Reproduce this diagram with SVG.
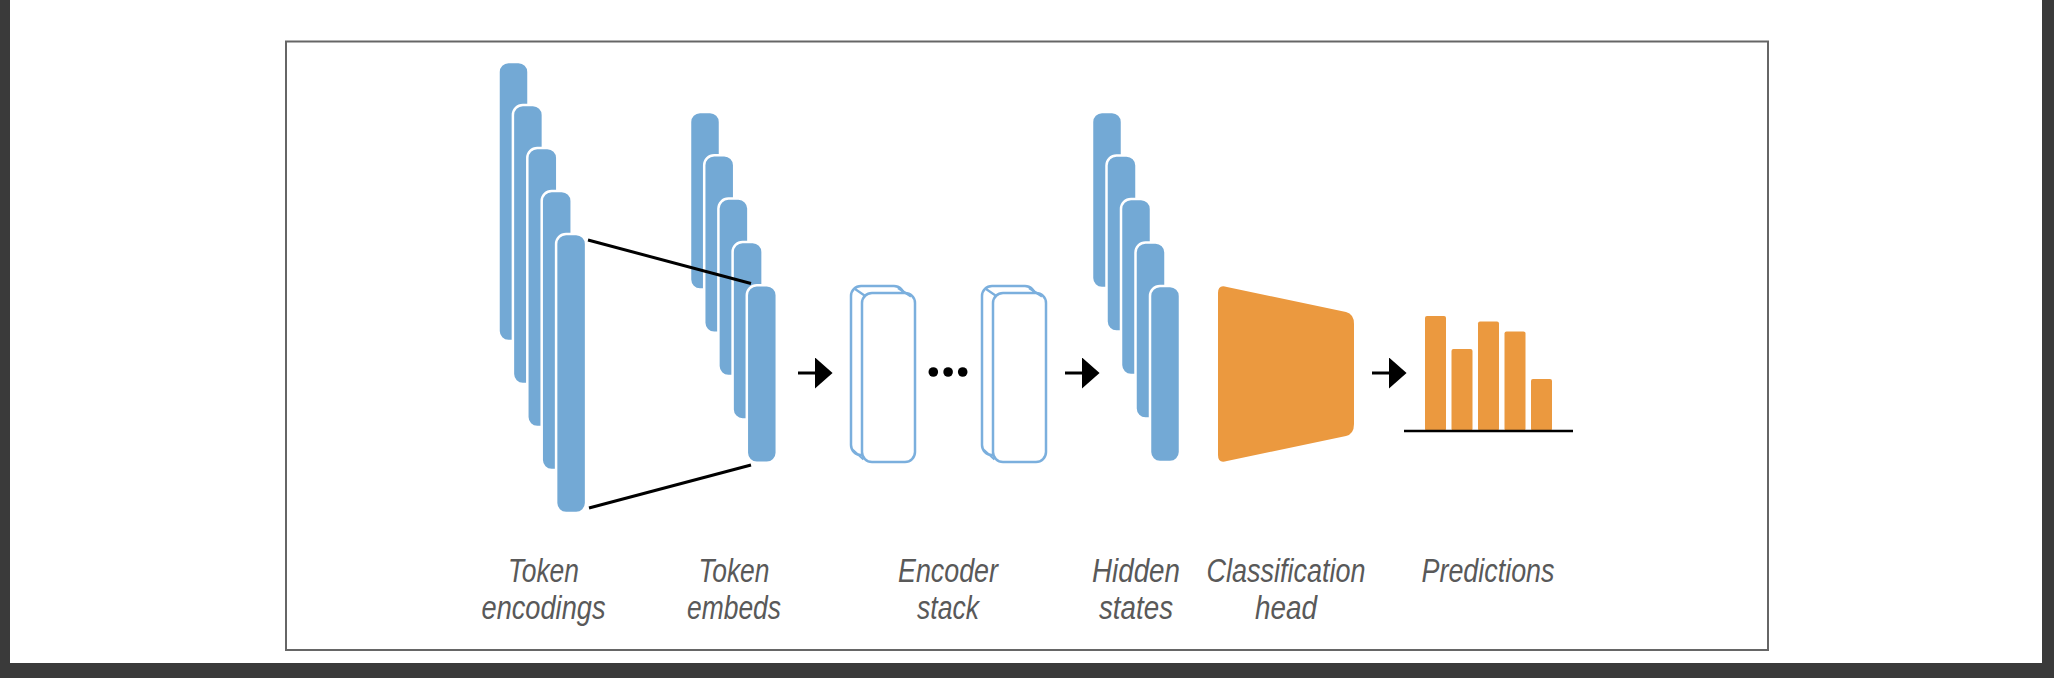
<svg xmlns="http://www.w3.org/2000/svg" width="2054" height="678" viewBox="0 0 2054 678">
  <defs>
    <style>
      .bar { fill: #73A9D5; stroke: #FFFFFF; stroke-width: 2.5; }
      .enc { fill: #FFFFFF; stroke: #7BAFDD; stroke-width: 2.5; }
      .encl { stroke: #7BAFDD; stroke-width: 2.2; fill: none; }
      .orange { fill: #EB993F; }
      .lbl { font-family: "Liberation Sans", "DejaVu Sans", sans-serif; font-style: italic; font-size: 32.5px; fill: #595959; text-anchor: middle; }
      .conn { stroke: #000000; stroke-width: 3; fill: none; }
    </style>
    <marker id="ah" markerUnits="userSpaceOnUse" markerWidth="18" markerHeight="31" viewBox="0 0 17 30" refX="0" refY="15" orient="auto">
      <path d="M0,0 L17,15 L0,30 Z" fill="#000000"/>
    </marker>
  </defs>

  <!-- background / frame -->
  <rect x="0" y="0" width="2054" height="678" fill="#FFFFFF"/>
  <rect x="0" y="0" width="10" height="678" fill="#3A3A3A"/>
  <rect x="2042" y="0" width="12" height="678" fill="#3A3A3A"/>
  <rect x="0" y="663" width="2054" height="15" fill="#3A3A3A"/>
  <rect x="286" y="41.5" width="1482" height="608.5" fill="#FFFFFF" stroke="#666666" stroke-width="2"/>

  <g id="token-encodings">
    <rect class="bar" x="498.5" y="62" width="30" height="279" rx="10"/>
    <rect class="bar" x="512.9" y="105" width="30" height="279" rx="10"/>
    <rect class="bar" x="527.3" y="148" width="30" height="279" rx="10"/>
    <rect class="bar" x="541.7" y="191" width="30" height="279" rx="10"/>
    <rect class="bar" x="556.1" y="234" width="30" height="279" rx="10"/>
    <text class="lbl" x="543.5" y="582" textLength="71" lengthAdjust="spacingAndGlyphs">Token</text>
    <text class="lbl" x="543.5" y="619" textLength="124" lengthAdjust="spacingAndGlyphs">encodings</text>
  </g>

  <g id="token-embeds">
    <rect class="bar" x="690" y="112" width="30" height="177.5" rx="10"/>
    <rect class="bar" x="704.2" y="155.3" width="30" height="177.5" rx="10"/>
    <rect class="bar" x="718.4" y="198.6" width="30" height="177.5" rx="10"/>
    <rect class="bar" x="732.6" y="241.9" width="30" height="177.5" rx="10"/>
    <rect class="bar" x="746.8" y="285.2" width="30" height="177.5" rx="10"/>
    <text class="lbl" x="734" y="582" textLength="71" lengthAdjust="spacingAndGlyphs">Token</text>
    <text class="lbl" x="734" y="619" textLength="94" lengthAdjust="spacingAndGlyphs">embeds</text>
  </g>

  <g id="encoder-stack">
    <rect class="enc" x="851" y="286" width="53" height="169" rx="10"/>
    <rect class="enc" x="862" y="293" width="53" height="169" rx="10"/>
    <path class="encl" d="M855,289 L866,296.5 M898,288 L911,296.5 M853,450 L863.5,459.5"/>
    <rect class="enc" x="982" y="286" width="53" height="169" rx="10"/>
    <rect class="enc" x="993" y="293" width="53" height="169" rx="10"/>
    <path class="encl" d="M986,289 L997,296.5 M1029,288 L1042,296.5 M984,450 L994.5,459.5"/>
    <circle cx="933.3" cy="372" r="4.8" fill="#000000"/>
    <circle cx="948.1" cy="372" r="4.8" fill="#000000"/>
    <circle cx="962.7" cy="372" r="4.8" fill="#000000"/>
    <text class="lbl" x="948" y="582" textLength="100" lengthAdjust="spacingAndGlyphs">Encoder</text>
    <text class="lbl" x="948" y="619" textLength="62" lengthAdjust="spacingAndGlyphs">stack</text>
  </g>

  <g id="hidden-states">
    <rect class="bar" x="1092" y="112" width="30" height="176" rx="10"/>
    <rect class="bar" x="1106.5" y="155.5" width="30" height="176" rx="10"/>
    <rect class="bar" x="1121" y="199" width="30" height="176" rx="10"/>
    <rect class="bar" x="1135.5" y="242.5" width="30" height="176" rx="10"/>
    <rect class="bar" x="1150" y="286" width="30" height="176" rx="10"/>
    <text class="lbl" x="1136" y="582" textLength="88" lengthAdjust="spacingAndGlyphs">Hidden</text>
    <text class="lbl" x="1136" y="619" textLength="74" lengthAdjust="spacingAndGlyphs">states</text>
  </g>

  <g id="classification-head">
    <path class="orange" d="M1218,293 Q1218,284 1227,287 L1346,312 Q1354,314 1354,324 L1354,424 Q1354,434 1346,436 L1227,461 Q1218,464 1218,455 Z"/>
    <text class="lbl" x="1286" y="582" textLength="159" lengthAdjust="spacingAndGlyphs">Classification</text>
    <text class="lbl" x="1286" y="619" textLength="62" lengthAdjust="spacingAndGlyphs">head</text>
  </g>

  <g id="predictions">
    <rect class="orange" x="1425" y="316" width="21" height="115" rx="2"/>
    <rect class="orange" x="1451.5" y="349" width="21" height="82" rx="2"/>
    <rect class="orange" x="1478" y="321.5" width="21" height="109.5" rx="2"/>
    <rect class="orange" x="1504.5" y="331.5" width="21" height="99.5" rx="2"/>
    <rect class="orange" x="1531" y="379" width="21" height="52" rx="2"/>
    <line x1="1404" y1="431" x2="1573" y2="431" stroke="#000000" stroke-width="2.5"/>
    <text class="lbl" x="1488" y="582" textLength="133" lengthAdjust="spacingAndGlyphs">Predictions</text>
  </g>

  <g id="connectors">
    <line class="conn" x1="588" y1="240" x2="751" y2="283.5"/>
    <line class="conn" x1="589" y1="508" x2="751" y2="465"/>
    <line class="conn" x1="798" y1="373" x2="815" y2="373" marker-end="url(#ah)"/>
    <line class="conn" x1="1065" y1="373" x2="1082" y2="373" marker-end="url(#ah)"/>
    <line class="conn" x1="1372" y1="373" x2="1389" y2="373" marker-end="url(#ah)"/>
  </g>
</svg>
